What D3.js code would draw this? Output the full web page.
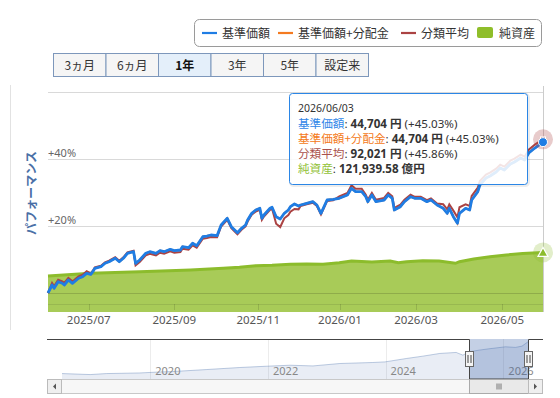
<!DOCTYPE html>
<html><head><meta charset="utf-8">
<script src="https://cdn.jsdelivr.net/npm/d3@7"></script>
<style>
html,body{margin:0;padding:0;background:#fff;}
svg{display:block;font-family:"Noto Sans","Noto Sans CJK JP",sans-serif;}
</style></head><body>
<svg id="c" width="560" height="398"></svg>
<script>
// ---------------- DATA ----------------
const legendLabels = ["基準価額","基準価額+分配金","分類平均","純資産"];
const periodButtons = ["3ヵ月","6ヵ月","1年","3年","5年","設定来"];
const selectedPeriod = "1年";
const yAxisTitle = "パフォーマンス";
const yTickValues = [0, 20, 40, 60];
const yTickLabels = ["", "+20%", "+40%", ""];
const xTickDates = ["2025-07-01","2025-09-01","2025-11-01","2026-01-01","2026-03-01","2026-05-01"];
const xTickLabels = ["2025/07","2025/09","2025/11","2026/01","2026/03","2026/05"];
const periodStart = "2025-06-03";
const periodEnd = "2026-06-03";
const marketHolidays = ["2025-07-21","2025-08-11","2025-09-15","2025-09-23","2025-10-13","2025-11-03","2025-11-24","2025-12-31","2026-01-01","2026-01-02","2026-01-12","2026-02-11","2026-02-23","2026-03-20","2026-04-29","2026-05-04","2026-05-05","2026-05-06"];

const perfDates = ["2025-06-03","2025-06-05","2025-06-06","2025-06-10","2025-06-12","2025-06-13","2025-06-17","2025-06-19","2025-06-20","2025-06-24",
"2025-06-26","2025-06-30","2025-07-02","2025-07-03","2025-07-04","2025-07-09","2025-07-11","2025-07-15","2025-07-18","2025-07-23",
"2025-07-25","2025-07-29","2025-08-01","2025-08-04","2025-08-06","2025-08-12","2025-08-14","2025-08-19","2025-08-21","2025-08-25",
"2025-08-28","2025-09-01","2025-09-04","2025-09-05","2025-09-10","2025-09-12","2025-09-17","2025-09-22","2025-09-25","2025-09-29",
"2025-10-02","2025-10-06","2025-10-09","2025-10-14","2025-10-17","2025-10-21","2025-10-23","2025-10-24","2025-10-28","2025-10-30",
"2025-11-04","2025-11-05","2025-11-06","2025-11-11","2025-11-12","2025-11-14","2025-11-18","2025-11-20","2025-11-25","2025-11-26",
"2025-11-28","2025-12-02","2025-12-03","2025-12-08","2025-12-11","2025-12-15","2025-12-17","2025-12-22","2025-12-25","2025-12-30",
"2026-01-08","2026-01-13","2026-01-15","2026-01-20","2026-01-22","2026-01-23","2026-01-27","2026-01-29","2026-02-04","2026-02-06",
"2026-02-10","2026-02-12","2026-02-17","2026-02-19","2026-02-25","2026-02-27","2026-03-04","2026-03-09","2026-03-11","2026-03-16",
"2026-03-19","2026-03-24","2026-03-25","2026-03-27","2026-03-31","2026-04-01","2026-04-06","2026-04-08","2026-04-09","2026-04-14",
"2026-04-15","2026-04-20","2026-04-22","2026-04-27","2026-04-30","2026-05-07","2026-05-12","2026-05-14","2026-05-19","2026-05-21",
"2026-05-25","2026-05-28","2026-06-03"];

// 基準価額 performance (%)
const basePricePerf = [0.00,2.39,1.40,3.37,2.90,2.39,3.88,2.90,3.37,4.39,
4.87,5.88,5.58,6.36,7.37,7.85,8.87,9.34,10.36,9.34,
10.36,11.85,12.33,8.87,9.85,11.85,12.33,11.85,12.63,12.33,
13.04,12.63,12.84,13.82,13.52,14.84,14.12,16.81,17.01,17.31,
17.10,20.30,22.30,19.79,18.00,19.31,20.30,21.79,23.79,24.78,
25.28,22.30,23.28,25.28,25.58,22.78,22.09,23.79,24.78,25.76,
26.57,25.97,26.27,26.78,27.25,26.27,23.79,27.76,27.97,28.27,
29.25,31.25,30.24,30.24,28.75,27.25,29.25,27.25,27.76,29.25,
28.27,24.78,25.76,27.25,28.75,28.27,28.27,27.25,27.76,26.27,
25.28,23.79,25.28,22.78,20.81,23.79,25.28,24.78,27.76,30.24,
32.24,34.33,34.92,36.12,37.31,36.72,38.51,39.10,40.30,39.70,
41.79,43.28,45.03];

// 基準価額+分配金: no distributions in the period, identical to 基準価額
const totalReturnPerf = [...basePricePerf];

// 分類平均 performance (%)
const categoryPerf = [0.00,2.99,2.00,3.97,3.50,2.99,4.48,3.50,3.97,4.99,
5.47,6.48,5.88,6.66,7.67,8.15,9.17,9.64,10.66,9.64,
10.66,12.15,12.63,8.27,9.25,11.25,11.73,11.25,12.03,11.73,
12.44,12.03,12.24,13.22,12.92,14.24,13.52,16.21,16.41,16.71,
16.65,19.85,21.85,19.34,17.55,18.86,19.85,21.34,23.34,24.33,
24.83,21.85,22.83,24.83,25.13,20.68,19.69,22.29,23.28,24.26,
25.07,24.97,25.97,26.48,26.95,25.97,23.49,27.46,27.67,28.87,
29.85,32.15,31.14,31.14,29.35,27.85,29.85,27.85,28.36,29.85,
28.87,25.38,26.36,27.85,29.35,28.72,28.72,27.70,28.21,26.72,
26.48,24.99,26.48,24.58,22.61,25.59,26.48,25.98,28.96,31.44,
33.44,35.33,35.92,37.12,38.31,37.72,39.51,40.10,41.30,40.70,
42.79,44.28,45.86];

// 純資産 (億円)
const netAssetDates = ["2025-06-03","2025-07-02","2025-08-06","2025-09-11","2025-10-07","2025-10-20","2025-10-30","2025-11-12","2025-11-26","2025-12-08",
"2025-12-18","2025-12-30","2026-01-13","2026-01-27","2026-02-09","2026-02-16","2026-02-20","2026-03-05","2026-03-17","2026-03-30",
"2026-04-01","2026-04-10","2026-04-22","2026-05-08","2026-05-20","2026-06-03"];
const netAssets = [73640,79160,82430,85910,89390,91430,94700,95520,97570,98180,
97800,100840,104320,102270,104320,100840,102890,104930,104320,99610,
102890,108410,113110,116590,119500,121939.58];
const netAssetAxisMax = 450000;

// tooltip figures
const tooltipDate = "2026/06/03";
const latestBasePrice = 44704;
const latestTotalReturnPrice = 44704;
const latestCategoryPrice = 92021;

// navigator (基準価額, 円)
const navDates = ["2018-07-02","2018-12-24","2019-04-05","2019-10-28","2020-03-02","2020-05-20","2020-12-17","2021-07-09","2021-12-23","2022-05-17",
"2022-10-07","2023-03-23","2023-10-13","2023-12-28","2024-05-10","2024-08-19","2024-12-02","2025-03-14","2025-04-25","2025-06-03",
"2025-08-04","2025-10-02","2026-01-14","2026-03-17","2026-04-27","2026-06-03"];
const navValues = [10000,8900,10000,10660,11760,12200,14390,16590,18020,19110,
18340,20980,22080,22740,26470,29000,31960,33060,30090,33720,
35580,37010,39200,38550,39980,44700];
const navYearTicks = ["2020","2022","2024","2026"];

// ---------------- CHART ----------------
const svg = d3.select("#c");
const parse = d3.utcParse("%Y-%m-%d");
const fmtDay = d3.utcFormat("%Y-%m-%d");
const C = {base:"#1f7de4", dist:"#f47a20", cat:"#ab4343", na:"#8cbc2c", naFill:"#a8cb58"};
const seriesColors = [C.base, C.dist, C.cat, C.na];
const plot = {left:48, right:543, top:92, bottom:312};

// ordinal (trading-day) axis
const holidaySet = new Set(marketHolidays);
const tradingDays = [];
for (let d = parse(periodStart); d <= parse(periodEnd); d = d3.utcDay.offset(d, 1)) {
  const wd = d.getUTCDay();
  if (wd !== 0 && wd !== 6 && !holidaySet.has(fmtDay(d))) tradingDays.push(d);
}
const bis = d3.bisector(d => +d).left;
function ordIndex(date) {
  const t = +date, i = bis(tradingDays, date);
  if (i < tradingDays.length && +tradingDays[i] === t) return i;
  if (i <= 0) return 0;
  if (i >= tradingDays.length) return tradingDays.length - 1;
  const a = +tradingDays[i-1], b = +tradingDays[i];
  return i - 1 + (t - a) / (b - a);
}
const x = d3.scaleLinear().domain([0, tradingDays.length - 1]).range([plot.left, plot.right]);
const xd = s => x(ordIndex(parse(s)));
const y = d3.scaleLinear().domain([-5.67, 60]).range([plot.bottom, plot.top]);
const yNA = d3.scaleLinear().domain([0, netAssetAxisMax]).range([plot.bottom, plot.top]);

// legend
const lg = svg.append("g");
lg.append("rect").attr("x",194.5).attr("y",19.5).attr("width",347).attr("height",27).attr("rx",5)
  .attr("fill","#fff").attr("stroke","#9a9a9a");
const legendX = [202, 278, 401, 477];
legendLabels.forEach((lab, i) => {
  const g = lg.append("g").attr("transform", `translate(${legendX[i]},33)`);
  if (i < 3) g.append("line").attr("x1",0).attr("x2",15).attr("y1",0).attr("y2",0)
      .attr("stroke", seriesColors[i]).attr("stroke-width",2.2);
  else g.append("rect").attr("x",0).attr("y",-6).attr("width",16).attr("height",11).attr("rx",2).attr("fill","#8fbe2a");
  g.append("text").attr("x", i < 3 ? 20 : 22).attr("y",4.5).attr("font-size",12).attr("fill","#333")
    .attr("font-family","'Noto Sans CJK JP',sans-serif").text(lab);
});

// period buttons
const bw = (368 - 53) / periodButtons.length;
const btn = svg.append("g");
periodButtons.forEach((b, i) => {
  const sel = b === selectedPeriod;
  btn.append("rect").attr("x", 53.5 + i*bw).attr("y",53.5).attr("width",bw).attr("height",23)
    .attr("fill", sel ? "#e4effa" : "#f5f5f5").attr("stroke","#7d97bb");
  btn.append("text").attr("x", 53.5 + i*bw + bw/2).attr("y",69.5).attr("text-anchor","middle")
    .attr("font-size",12).attr("font-weight", sel ? "bold" : "normal").attr("fill", sel ? "#111" : "#333")
    .attr("font-family","'Noto Sans CJK JP',sans-serif").text(b);
});

// frame line
svg.append("line").attr("x1",10.5).attr("x2",10.5).attr("y1",85).attr("y2",330).attr("stroke","#e2e2e2");

// net assets area
const naData = netAssetDates.map((d,i)=>({d, v:netAssets[i]}));
svg.append("path").datum(naData)
  .attr("d", d3.area().x(p=>xd(p.d)).y0(plot.bottom).y1(p=>yNA(p.v)))
  .attr("fill", C.naFill);
svg.append("path").datum(naData)
  .attr("d", d3.line().x(p=>xd(p.d)).y(p=>yNA(p.v)))
  .attr("fill","none").attr("stroke", C.na).attr("stroke-width",3);

// gridlines
svg.append("g").selectAll("line").data(yTickValues).join("line")
  .attr("x1",plot.left).attr("x2",plot.right)
  .attr("y1",v=>Math.round(y(v))+0.5).attr("y2",v=>Math.round(y(v))+0.5)
  .attr("stroke","rgba(0,0,0,0.15)");
// x axis line & ticks
svg.append("line").attr("x1",plot.left).attr("x2",plot.right).attr("y1",304.5).attr("y2",304.5).attr("stroke","rgba(0,0,0,0.09)");
svg.append("g").selectAll("line").data(xTickDates).join("line")
  .attr("x1",d=>Math.round(xd(d))+0.5).attr("x2",d=>Math.round(xd(d))+0.5)
  .attr("y1",304).attr("y2",310).attr("stroke","rgba(0,0,0,0.12)");

// crosshair
const xLast = xd(perfDates[perfDates.length-1]);
svg.append("line").attr("x1",Math.round(xLast)+0.5).attr("x2",Math.round(xLast)+0.5)
  .attr("y1",86).attr("y2",plot.bottom).attr("stroke","#cccccc");

// lines
const mk = arr => perfDates.map((d,i)=>({d, v:arr[i]}));
const ln = d3.line().x(p=>xd(p.d)).y(p=>y(p.v));
svg.append("path").datum(mk(totalReturnPerf)).attr("d",ln).attr("fill","none").attr("stroke",C.dist).attr("stroke-width",2);
svg.append("path").datum(mk(categoryPerf)).attr("d",ln).attr("fill","none").attr("stroke",C.cat).attr("stroke-width",2);
svg.append("path").datum(mk(basePricePerf)).attr("d",ln).attr("fill","none").attr("stroke",C.base).attr("stroke-width",2.8).attr("stroke-linejoin","round");

// hover markers
const lastCat = categoryPerf[categoryPerf.length-1], lastBase = basePricePerf[basePricePerf.length-1];
const lastNA = netAssets[netAssets.length-1];
svg.append("circle").attr("cx",xLast).attr("cy",y(lastCat)).attr("r",10).attr("fill","rgba(171,67,67,0.28)");
svg.append("rect").attr("x",xLast-2.5).attr("y",y(lastCat)-2.5).attr("width",5).attr("height",5).attr("fill",C.cat).attr("stroke","#fff").attr("stroke-width",1);
svg.append("circle").attr("cx",xLast).attr("cy",y(lastBase)).attr("r",4.5).attr("fill",C.base).attr("stroke","#fff").attr("stroke-width",1);
svg.append("circle").attr("cx",xLast).attr("cy",yNA(lastNA)).attr("r",10).attr("fill","rgba(140,188,44,0.25)");
{
  const cy = yNA(lastNA);
  svg.append("path").attr("d",`M${xLast},${cy-5}L${xLast+5},${cy+4}L${xLast-5},${cy+4}Z`)
    .attr("fill",C.na).attr("stroke","#fff").attr("stroke-width",1.2);
}

// y labels & title
svg.append("g").selectAll("text").data(yTickValues.map((v,i)=>({v,l:yTickLabels[i]})).filter(o=>o.l))
  .join("text").attr("x",plot.left).attr("y",o=>y(o.v)-2.5).attr("font-size",11).attr("fill","#666").text(o=>o.l);
svg.append("text").attr("transform","translate(36,193) rotate(-90)").attr("text-anchor","middle")
  .attr("font-size",12).attr("font-weight","bold").attr("fill","#4a70a6")
  .attr("font-family","'Noto Sans CJK JP',sans-serif").text(yAxisTitle);

// x labels
svg.append("g").selectAll("text").data(xTickDates).join("text")
  .attr("x",d=>xd(d)).attr("y",324).attr("text-anchor","middle").attr("font-size",11.5).attr("fill","#555")
  .text((d,i)=>xTickLabels[i]);

// tooltip
const tt = svg.append("g");
tt.append("rect").attr("x",290.5).attr("y",94.5).attr("width",238).attr("height",91).attr("rx",3)
  .attr("fill","none").attr("stroke","rgba(0,0,0,0.07)").attr("stroke-width",3);
tt.append("rect").attr("x",289.5).attr("y",93.5).attr("width",238).attr("height",91).attr("rx",3)
  .attr("fill","rgba(255,255,255,0.86)").attr("stroke","#2b86e6");
tt.append("text").attr("x",298).attr("y",112).attr("font-size",10.5).attr("fill","#333").text(tooltipDate);
const pct = v => ` (${d3.format("+.2f")(v)}%)`;
const ttRows = [
  {label:legendLabels[0], color:"#2f86e8", value:d3.format(",")(latestBasePrice)+" 円", extra:pct(lastBase)},
  {label:legendLabels[1], color:"#f47a20", value:d3.format(",")(latestTotalReturnPrice)+" 円", extra:pct(totalReturnPerf[totalReturnPerf.length-1])},
  {label:legendLabels[2], color:"#a9504b", value:d3.format(",")(latestCategoryPrice)+" 円", extra:pct(lastCat)},
  {label:legendLabels[3], color:"#93c23a", value:d3.format(",.2f")(lastNA)+" 億円", extra:""}
];
ttRows.forEach((r,i)=>{
  const t = tt.append("text").attr("x",298).attr("y",127.5 + i*15.2).attr("font-size",11.6).attr("fill","#333");
  t.append("tspan").attr("fill",r.color).attr("font-family","'Noto Sans CJK JP',sans-serif").text(r.label);
  t.append("tspan").text(": ");
  t.append("tspan").attr("font-weight","bold").text(r.value);
  if (r.extra) t.append("tspan").text(r.extra);
});

// ---------------- NAVIGATOR ----------------
const nav = {left:47, right:543, top:339, bottom:379};
const navData = navDates.map((d,i)=>({t:parse(d), v:navValues[i]}));
const xNav = d3.scaleUtc().domain(d3.extent(navData, p=>p.t)).range([62, 528]);
const [nMin, nMax] = d3.extent(navValues);
const yNav = d3.scaleLinear().domain([nMin - (nMax-nMin)*0.135, nMax + (nMax-nMin)*0.085]).range([nav.bottom, nav.top]);
const ng = svg.append("g");
ng.selectAll("line.g").data(navYearTicks).join("line")
  .attr("x1",d=>Math.round(xNav(parse(d+"-01-01")))+0.5).attr("x2",d=>Math.round(xNav(parse(d+"-01-01")))+0.5)
  .attr("y1",nav.top).attr("y2",nav.bottom).attr("stroke","#ececec");
ng.append("path").datum(navData).attr("d", d3.area().x(p=>xNav(p.t)).y0(nav.bottom).y1(p=>yNav(p.v)))
  .attr("fill","rgba(70,110,170,0.12)");
ng.append("path").datum(navData).attr("d", d3.line().x(p=>xNav(p.t)).y(p=>yNav(p.v)))
  .attr("fill","none").attr("stroke","rgba(70,110,170,0.35)").attr("stroke-width",1);
ng.selectAll("text").data(navYearTicks).join("text")
  .attr("x",d=>xNav(parse(d+"-01-01"))+5).attr("y",375).attr("font-size",11).attr("fill","#888").text(d=>d);
const sx0 = Math.round(xNav(parse(periodStart)))+0.5, sx1 = Math.round(xNav(parse(periodEnd)))+0.5;
ng.append("rect").attr("x",sx0).attr("y",nav.top).attr("width",sx1-sx0).attr("height",nav.bottom-nav.top)
  .attr("fill","rgba(60,100,170,0.3)");
ng.append("path").attr("d",`M${nav.left},${nav.top+0.5}H${sx0}V${nav.bottom}H${sx1}V${nav.top+0.5}H${nav.right}`)
  .attr("fill","none").attr("stroke","#444").attr("stroke-width",1);

// scrollbar
const sb = {y:379.5, h:14};
ng.append("rect").attr("x",nav.left+0.5).attr("y",sb.y).attr("width",nav.right-nav.left-1).attr("height",sb.h)
  .attr("fill","#f7f7f7").attr("stroke","#c8c8c8");
ng.append("rect").attr("x",sx0).attr("y",sb.y).attr("width",sx1-sx0).attr("height",sb.h)
  .attr("fill","#e9e9e9").attr("stroke","#aaa");
[-2,0,2].forEach(o=>ng.append("line").attr("x1",(sx0+sx1)/2+o).attr("x2",(sx0+sx1)/2+o)
  .attr("y1",sb.y+4).attr("y2",sb.y+10).attr("stroke","#777"));
ng.append("rect").attr("x",nav.left+0.5).attr("y",sb.y).attr("width",14).attr("height",sb.h).attr("fill","#efefef").attr("stroke","#bbb");
ng.append("rect").attr("x",nav.right-14.5).attr("y",sb.y).attr("width",14).attr("height",sb.h).attr("fill","#efefef").attr("stroke","#bbb");
ng.append("path").attr("d",`M${nav.left+6},${sb.y+7}l3,-3v6z`).attr("fill","#555");
ng.append("path").attr("d",`M${nav.right-6},${sb.y+7}l-3,-3v6z`).attr("fill","#555");

// handles
[sx0, sx1].forEach(hx=>{
  ng.append("rect").attr("x",hx-4).attr("y",351.5).attr("width",8).attr("height",15).attr("fill","#f4f4f4").attr("stroke","#666");
  [-1.5,1.5].forEach(o=>ng.append("line").attr("x1",hx+o).attr("x2",hx+o).attr("y1",355).attr("y2",363).attr("stroke","#444"));
});
</script>
</body></html>
